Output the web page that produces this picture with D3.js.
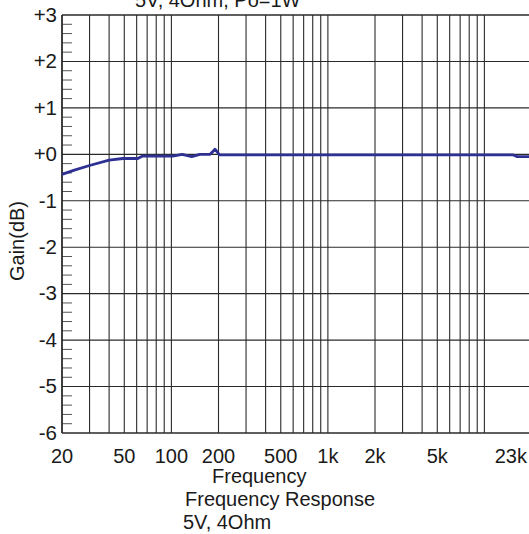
<!DOCTYPE html>
<html>
<head>
<meta charset="utf-8">
<script src="https://cdn.jsdelivr.net/npm/d3@7"></script>
<style>
  body { margin: 0; background: #fff; }
  svg { display: block; }
  text { font-family: "Liberation Sans", Arial, sans-serif; fill: #1a1a1a; }
</style>
</head>
<body>
<div id="chart"></div>
<script>
// Measured response (Hz, dB)
const freqs = [20, 24, 30, 40, 49, 61, 65, 102, 117, 135, 152, 177, 190, 203, 500, 1000, 5000, 10000, 15200, 16200, 20000];
const gains = [-0.43, -0.34, -0.24, -0.125, -0.09, -0.09, -0.04, -0.04, 0.0, -0.05, 0.0, 0.0, 0.11, -0.01, -0.01, -0.01, -0.01, -0.01, -0.01, -0.05, -0.05];

const xTickVals = [20, 50, 100, 200, 500, 1000, 2000, 5000];
const xTickText = ["20", "50", "100", "200", "500", "1k", "2k", "5k"];
const lastTick = "23k";
const yTickVals = [3, 2, 1, 0, -1, -2, -3, -4, -5, -6];
const yTickText = ["+3", "+2", "+1", "+0", "-1", "-2", "-3", "-4", "-5", "-6"];

const width = 529, height = 534;

const svg = d3.select("#chart").append("svg")
    .attr("width", width)
    .attr("height", height);

const x = d3.scaleLog().domain([20, 20000]).range([62, 531.5]);
const y = d3.scaleLinear().domain([-6, 3]).range([433, 15]);

// vertical grid (1-2-...-9 per decade)
const vLines = [];
[10, 100, 1000, 10000].forEach(dec => {
    for (let k = 1; k <= 9; k++) {
        const f = k * dec;
        if (f >= 20 && f <= 10000) vLines.push(f);
    }
});

svg.selectAll(".vgrid")
    .data(vLines)
    .enter().append("line")
    .attr("class", "vgrid")
    .attr("x1", d => x(d)).attr("x2", d => x(d))
    .attr("y1", y(3)).attr("y2", y(-6))
    .style("stroke", "#2a2a2a")
    .attr("stroke-width", 1.1);

// horizontal grid
svg.selectAll(".hgrid")
    .data(yTickVals)
    .enter().append("line")
    .attr("class", "hgrid")
    .attr("x1", x(20)).attr("x2", width)
    .attr("y1", d => y(d)).attr("y2", d => y(d))
    .style("stroke", "#2a2a2a")
    .attr("stroke-width", d => (d === 3 || d === -6) ? 1.4 : 1.1);

// minor ticks on left axis every 0.2 dB
const minor = d3.range(-6, 3.001, 0.2).filter(v => Math.abs(v - Math.round(v)) > 0.01);
svg.selectAll(".minor")
    .data(minor)
    .enter().append("line")
    .attr("x1", x(20)).attr("x2", x(20) + 10)
    .attr("y1", d => y(d)).attr("y2", d => y(d))
    .style("stroke", "#555")
    .attr("stroke-width", 1);

// left border
svg.append("line")
    .attr("x1", x(20)).attr("x2", x(20))
    .attr("y1", y(3)).attr("y2", y(-6))
    .style("stroke", "#222")
    .attr("stroke-width", 1.4);

// response curve
const line = d3.line()
    .x((d, i) => x(freqs[i]))
    .y(d => y(d));

svg.append("path")
    .datum(gains)
    .attr("fill", "none")
    .style("stroke", "#2e3192")
    .attr("stroke-width", 2.8)
    .attr("stroke-linejoin", "round")
    .attr("d", line);

// y tick labels
svg.selectAll(".ylab")
    .data(yTickVals)
    .enter().append("text")
    .attr("x", 57)
    .attr("y", d => y(d))
    .attr("dy", "0.33em")
    .attr("text-anchor", "end")
    .style("font-size", "20.5px")
    .text((d, i) => yTickText[i]);

// x tick labels
svg.selectAll(".xlab")
    .data(xTickVals)
    .enter().append("text")
    .attr("x", d => x(d))
    .attr("y", 463)
    .attr("text-anchor", "middle")
    .style("font-size", "20px")
    .text((d, i) => xTickText[i]);

svg.append("text")
    .attr("x", width - 2)
    .attr("y", 463)
    .attr("text-anchor", "end")
    .style("font-size", "20px")
    .text(lastTick);

// axis titles
svg.append("text")
    .attr("transform", "translate(24, 241) rotate(-90)")
    .attr("text-anchor", "middle")
    .style("font-size", "20px")
    .text("Gain(dB)");

svg.append("text")
    .attr("x", 212).attr("y", 483)
    .style("font-size", "20px")
    .text("Frequency");

svg.append("text")
    .attr("x", 185).attr("y", 506)
    .style("font-size", "20px")
    .text("Frequency Response");

svg.append("text")
    .attr("x", 183).attr("y", 529)
    .style("font-size", "20px")
    .text("5V, 4Ohm");

// top title (cut off at the top edge, as in the source)
svg.append("text")
    .attr("x", 135).attr("y", 7)
    .style("font-size", "20px")
    .text("5V, 4Ohm, Po=1W");
</script>
</body>
</html>
